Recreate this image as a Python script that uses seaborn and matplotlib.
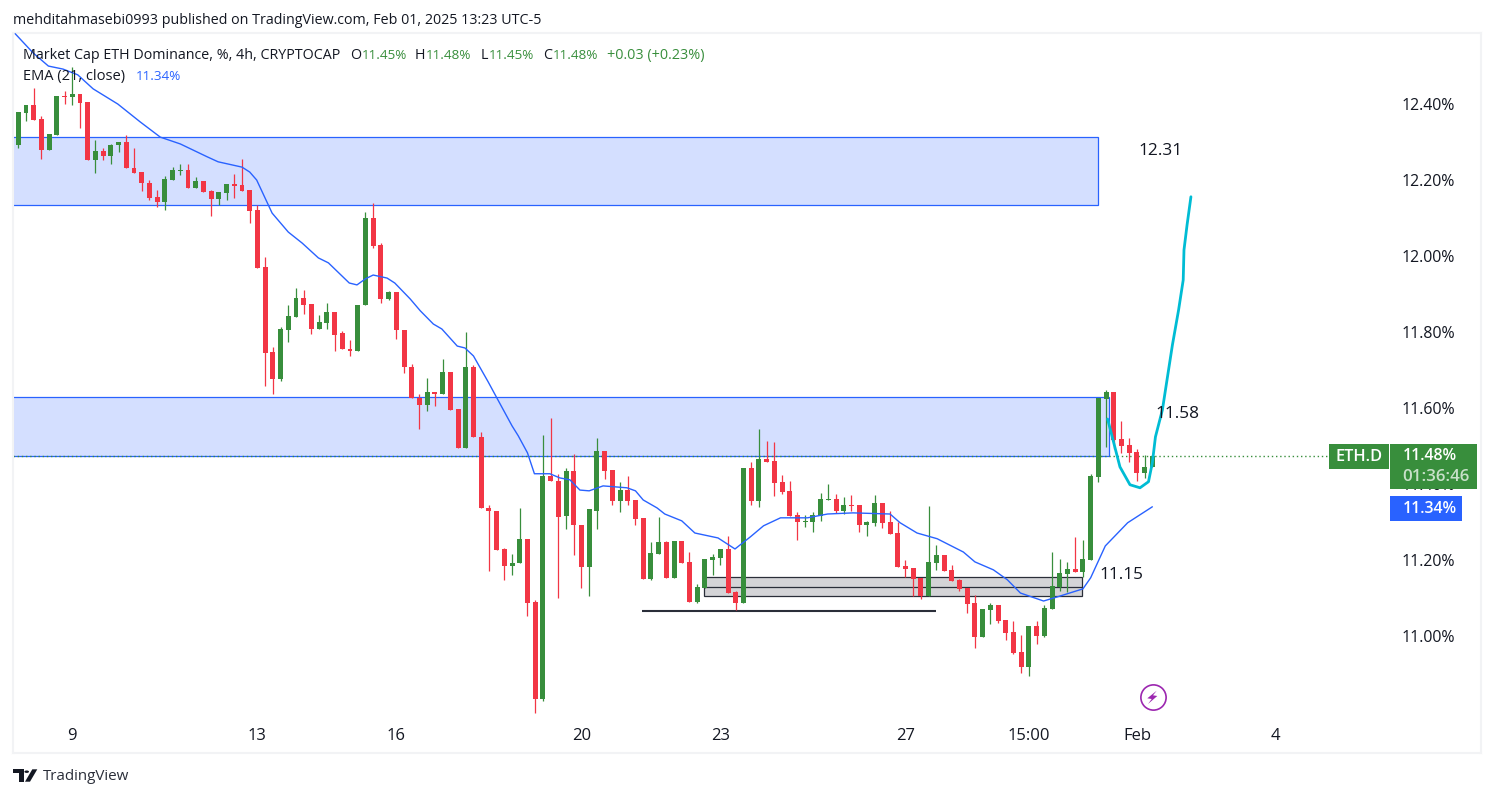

import pandas as pd
import seaborn as sns
import matplotlib.pyplot as plt
from matplotlib.patches import Polygon, Rectangle

# 4h candles, oldest first
opens = [12.292, 12.378, 12.399, 12.362, 12.281, 12.320, 12.422, 12.420, 12.428, 12.407,
         12.255, 12.278, 12.265, 12.292, 12.301, 12.233, 12.222, 12.193, 12.156, 12.144,
         12.202, 12.226, 12.228, 12.181, 12.199, 12.172, 12.151, 12.167, 12.191, 12.188,
         12.175, 12.122, 11.972, 11.749, 11.677, 11.806, 11.841, 11.891, 11.875, 11.809,
         11.825, 11.854, 11.799, 11.756, 11.750, 11.871, 12.101, 12.030, 11.888, 11.906,
         11.806, 11.709, 11.627, 11.608, 11.643, 11.637, 11.695, 11.599, 11.497, 11.709,
         11.525, 11.339, 11.331, 11.230, 11.185, 11.193, 11.256, 11.091, 10.835, 11.423,
         11.408, 11.317, 11.434, 11.294, 11.183, 11.331, 11.489, 11.437, 11.356, 11.384,
         11.358, 11.312, 11.152, 11.217, 11.248, 11.154, 11.251, 11.196, 11.091, 11.127,
         11.201, 11.206, 11.230, 11.117, 11.088, 11.443, 11.356, 11.467, 11.462, 11.406,
         11.383, 11.320, 11.301, 11.301, 11.317, 11.359, 11.362, 11.330, 11.346, 11.346,
         11.293, 11.299, 11.351, 11.301, 11.272, 11.185, 11.180, 11.154, 11.106, 11.193,
         11.214, 11.175, 11.148, 11.127, 11.088, 10.998, 11.070, 11.083, 11.043, 11.012,
         10.959, 10.920, 11.027, 11.001, 11.072, 11.130, 11.164, 11.177, 11.170, 11.201,
         11.420, 11.625, 11.643, 11.520, 11.504, 11.485, 11.430, 11.446]
highs = [12.379, 12.399, 12.443, 12.369, 12.322, 12.422, 12.435, 12.498, 12.428, 12.407,
         12.307, 12.285, 12.296, 12.301, 12.320, 12.285, 12.222, 12.201, 12.175, 12.212,
         12.235, 12.243, 12.243, 12.209, 12.199, 12.175, 12.170, 12.191, 12.217, 12.257,
         12.175, 12.135, 11.999, 11.762, 11.814, 11.872, 11.917, 11.912, 11.875, 11.846,
         11.878, 11.854, 11.804, 11.780, 11.872, 12.117, 12.141, 12.035, 11.909, 11.906,
         11.806, 11.717, 11.638, 11.679, 11.643, 11.730, 11.695, 11.599, 11.801, 11.714,
         11.537, 11.347, 11.331, 11.233, 11.218, 11.339, 11.256, 11.096, 11.531, 11.574,
         11.426, 11.442, 11.480, 11.294, 11.334, 11.521, 11.489, 11.437, 11.405, 11.421,
         11.358, 11.312, 11.248, 11.314, 11.251, 11.251, 11.251, 11.222, 11.138, 11.204,
         11.217, 11.230, 11.264, 11.120, 11.443, 11.459, 11.546, 11.514, 11.512, 11.425,
         11.409, 11.328, 11.320, 11.328, 11.377, 11.401, 11.375, 11.367, 11.372, 11.346,
         11.304, 11.372, 11.351, 11.330, 11.301, 11.201, 11.180, 11.154, 11.343, 11.241,
         11.214, 11.188, 11.151, 11.127, 11.109, 11.072, 11.088, 11.083, 11.043, 11.041,
         11.004, 11.027, 11.041, 11.083, 11.222, 11.204, 11.196, 11.262, 11.254, 11.427,
         11.627, 11.649, 11.643, 11.567, 11.522, 11.493, 11.477, 11.475]
lows = [12.286, 12.357, 12.360, 12.257, 12.281, 12.320, 12.401, 12.399, 12.339, 12.255,
        12.220, 12.255, 12.244, 12.276, 12.234, 12.220, 12.172, 12.149, 12.131, 12.123,
        12.202, 12.213, 12.181, 12.181, 12.170, 12.107, 12.135, 12.149, 12.155, 12.172,
        12.088, 11.970, 11.659, 11.638, 11.672, 11.775, 11.841, 11.849, 11.796, 11.809,
        11.809, 11.751, 11.756, 11.738, 11.750, 11.871, 12.022, 11.878, 11.885, 11.783,
        11.693, 11.627, 11.546, 11.593, 11.606, 11.637, 11.595, 11.497, 11.497, 11.525,
        11.338, 11.172, 11.227, 11.148, 11.162, 11.193, 11.054, 10.798, 10.830, 11.408,
        11.101, 11.283, 11.214, 11.127, 11.106, 11.283, 11.413, 11.345, 11.326, 11.345,
        11.293, 11.152, 11.148, 11.217, 11.154, 11.154, 11.193, 11.091, 11.088, 11.127,
        11.162, 11.188, 11.114, 11.070, 11.088, 11.346, 11.341, 11.459, 11.370, 11.375,
        11.317, 11.254, 11.288, 11.275, 11.304, 11.359, 11.325, 11.322, 11.330, 11.275,
        11.264, 11.291, 11.285, 11.270, 11.183, 11.156, 11.106, 11.098, 11.106, 11.175,
        11.172, 11.146, 11.120, 11.062, 10.970, 10.998, 11.033, 11.035, 10.991, 10.954,
        10.904, 10.896, 10.980, 10.998, 11.072, 11.120, 11.117, 11.170, 11.156, 11.201,
        11.406, 11.499, 11.493, 11.483, 11.459, 11.409, 11.417, 11.446]
closes = [12.379, 12.399, 12.360, 12.281, 12.322, 12.422, 12.420, 12.428, 12.405, 12.255,
          12.278, 12.265, 12.293, 12.301, 12.234, 12.220, 12.192, 12.155, 12.144, 12.204,
          12.228, 12.228, 12.181, 12.199, 12.170, 12.151, 12.170, 12.191, 12.186, 12.172,
          12.120, 11.970, 11.746, 11.677, 11.809, 11.843, 11.891, 11.872, 11.809, 11.827,
          11.854, 11.793, 11.756, 11.750, 11.872, 12.101, 12.028, 11.888, 11.906, 11.805,
          11.708, 11.627, 11.608, 11.643, 11.637, 11.695, 11.596, 11.497, 11.709, 11.525,
          11.338, 11.330, 11.227, 11.185, 11.194, 11.256, 11.088, 10.835, 11.423, 11.408,
          11.314, 11.434, 11.293, 11.183, 11.334, 11.489, 11.435, 11.356, 11.384, 11.356,
          11.310, 11.152, 11.219, 11.248, 11.154, 11.251, 11.193, 11.091, 11.130, 11.204,
          11.209, 11.230, 11.114, 11.088, 11.443, 11.356, 11.467, 11.459, 11.404, 11.380,
          11.317, 11.301, 11.304, 11.320, 11.362, 11.362, 11.330, 11.346, 11.343, 11.293,
          11.301, 11.351, 11.299, 11.270, 11.183, 11.177, 11.151, 11.106, 11.196, 11.214,
          11.172, 11.146, 11.125, 11.085, 10.998, 11.072, 11.083, 11.041, 11.009, 10.956,
          10.920, 11.027, 11.001, 11.075, 11.133, 11.167, 11.177, 11.170, 11.204, 11.422,
          11.627, 11.643, 11.517, 11.501, 11.483, 11.430, 11.446, 11.475]

# EMA(21) read at points along the line, x in candle numbers
ema_x = [-0.4, 1.9, 3.9, 5.8, 7.7, 9.7, 12.9, 15.8, 18.4, 21.0, 24.5, 25.9, 29.0, 30.0, 30.9,
         32.9, 35.0, 36.8, 38.9, 40.2, 42.9, 43.9, 45.0, 46.0, 47.8, 48.8, 50.8, 52.1, 53.8,
         54.9, 56.9, 57.9, 59.0, 60.9, 62.1, 64.0, 64.8, 66.0, 66.9, 68.9, 70.2, 71.5, 72.8,
         74.0, 75.8, 78.9, 80.0, 81.0, 82.8, 83.8, 86.0, 87.7, 90.7, 92.9, 94.9, 96.6, 98.8,
         102.3, 104.9, 108.2, 113.0, 114.3, 116.5, 119.1, 122.5, 124.0, 126.4, 128.2, 129.9,
         132.9, 134.7, 138.0, 139.0, 140.9, 143.8, 147.0]
ema_y = [12.586, 12.536, 12.501, 12.493, 12.478, 12.441, 12.401, 12.354, 12.314, 12.296,
         12.262, 12.249, 12.235, 12.222, 12.201, 12.114, 12.064, 12.035, 11.996, 11.983,
         11.930, 11.925, 11.941, 11.951, 11.943, 11.930, 11.888, 11.857, 11.822, 11.809,
         11.764, 11.759, 11.738, 11.670, 11.625, 11.554, 11.528, 11.483, 11.428, 11.428,
         11.417, 11.412, 11.385, 11.383, 11.396, 11.391, 11.383, 11.359, 11.338, 11.322,
         11.304, 11.272, 11.259, 11.230, 11.262, 11.291, 11.312, 11.312, 11.322, 11.325,
         11.322, 11.299, 11.272, 11.257, 11.222, 11.196, 11.175, 11.149, 11.114, 11.093,
         11.104, 11.125, 11.154, 11.238, 11.299, 11.341]

# hand drawn cyan path
path_x = [141.2, 142.0, 142.8, 144.1, 145.4, 146.5, 147.0, 147.4, 148.3, 148.9, 149.6,
          150.4, 151.0, 151.1, 151.5, 152.0]
path_y = [11.572, 11.509, 11.446, 11.399, 11.391, 11.407, 11.457, 11.525, 11.596, 11.675,
          11.767, 11.859, 11.938, 12.017, 12.083, 12.157]

price_ticks = [11.00, 11.20, 11.40, 11.60, 11.80, 12.00, 12.20, 12.40]
date_ticks = [7, 31, 49, 73, 91, 115, 131, 145, 163]
date_labels = ["9", "13", "16", "20", "23", "27", "15:00", "Feb", "4"]

GREEN = "#388e3c"
RED = "#f23645"
BLUE = "#2962ff"
CYAN = "#00bcd4"
INK = "#131722"
FRAME = "#f2f3f5"
W, H = 1494, 798

sns.set_style("white")
plt.rcParams["font.family"] = ["Open Sans", "DejaVu Sans"]

df = pd.DataFrame({"open": opens, "high": highs, "low": lows, "close": closes})
df["n"] = df.index
df["top"] = df[["open", "close"]].max(axis=1)
df["bottom"] = df[["open", "close"]].min(axis=1)
df["color"] = [GREEN if c >= o else RED for o, c in zip(opens, closes)]

fig = plt.figure(figsize=(W / 100, H / 100), dpi=100)
ax = fig.add_axes([13 / W, 1 - 753 / H, (1481 - 13) / W, (753 - 33) / H])
ax.set_xlim(-0.687, 189.6)
ax.set_ylim(10.693, 12.588)


def label(x, y, s, color=INK, size=10.3, **kw):
    kw.setdefault("va", "center")
    return fig.text(x / W, 1 - y / H, s, color=color, fontsize=size, zorder=10, **kw)


def box(x0, y0, x1, y1, color):
    fig.add_artist(Rectangle((x0 / W, 1 - y1 / H), (x1 - x0) / W, (y1 - y0) / H,
                             transform=fig.transFigure, fc=color, ec="none", zorder=8))


def shape(points, color):
    fig.add_artist(Polygon([(x / W, 1 - y / H) for x, y in points], closed=True,
                           transform=fig.transFigure, fc=color, ec="none", zorder=9))


# supply / demand zones
ax.add_patch(Rectangle((-5, 12.135), 145, 0.179, fc=BLUE, alpha=0.2, ec="none", zorder=1))
ax.add_patch(Rectangle((-5, 12.135), 145, 0.179, fc="none", ec=BLUE, lw=0.9, zorder=1.1))
ax.add_patch(Rectangle((-5, 11.475), 146.4, 0.155, fc=BLUE, alpha=0.2, ec="none", zorder=1))
ax.add_patch(Rectangle((-5, 11.475), 146.4, 0.155, fc="none", ec=BLUE, lw=0.9, zorder=1.1))
ax.add_patch(Rectangle((88.9, 11.107), 49, 0.050, fc="#d4d4d7", ec="#2a2e39", lw=0.9, zorder=1))
ax.plot([88.9, 137.9], [11.131, 11.131], color="#2a2e39", lw=0.9, zorder=1.1)
ax.plot([80.8, 119], [11.066, 11.066], color="#2a2e39", lw=1.5, zorder=1.1, solid_capstyle="butt")

# last price line
ax.plot([-0.687, 170.0], [11.475, 11.475], color=GREEN, lw=1.0, ls=(0, (1, 2)), zorder=1.5)

# candles
ax.vlines(df["n"], df["low"], df["high"], colors=df["color"], lw=0.9, zorder=2)
ax.bar(df["n"], df["top"] - df["bottom"], bottom=df["bottom"], width=0.64,
       color=df["color"], linewidth=0, zorder=2.2)

sns.lineplot(x=ema_x, y=ema_y, ax=ax, color=BLUE, lw=1.0, sort=False, estimator=None, zorder=3)
sns.lineplot(x=path_x, y=path_y, ax=ax, color=CYAN, lw=2.0, sort=False, estimator=None, zorder=4)

ax.set_yticks(price_ticks, [f"{p:.2f}%" for p in price_ticks])
ax.set_xticks(date_ticks, date_labels)
ax.yaxis.tick_right()
ax.tick_params(axis="y", length=0, pad=-57, labelsize=11.4, labelcolor=INK)
ax.tick_params(axis="x", length=0, pad=-18, labelsize=12, labelcolor=INK)
for side in ax.spines.values():
    side.set_color(FRAME)
    side.set_linewidth(1.5)
ax.set_xlabel("")
ax.set_ylabel("")

# levels written on the chart
ax.text(148.0, 12.277, "12.31", color=INK, fontsize=12.4, ha="center", va="center", zorder=6)
ax.text(150.2, 11.585, "11.58", color=INK, fontsize=12.4, ha="center", va="center", zorder=6)
ax.text(143.0, 11.162, "11.15", color=INK, fontsize=12.4, ha="center", va="center", zorder=6)

# alert icon
ax.scatter([147.05], [10.84], s=330, fc="white", ec="#9c27b0", lw=1.2, zorder=6)
shape([(1156.7, 690.7), (1147.3, 698.3), (1151.7, 699), (1148, 704), (1157.3, 696), (1153, 695.3)],
      "#9c27b0")

# price scale tags
box(1329, 444, 1389, 469, GREEN)
box(1390, 444, 1477, 489, GREEN)
box(1390, 496, 1462, 521, BLUE)
label(1359, 457, "ETH.D", color="white", size=11.8, ha="center", weight="semibold")
label(1403, 456, "11.48%", color="white", size=11.4, weight="semibold")
label(1402, 477, "01:36:46", color="#c8e0c9", size=12.2, weight="semibold")
label(1403, 509, "11.34%", color="white", size=11.4, weight="semibold")

# header and legend
label(13, 21, "mehditahmasebi0993 published on TradingView.com, Feb 01, 2025 13:23 UTC-5")
label(23, 55.5, "Market Cap ETH Dominance, %, 4h, CRYPTOCAP")
label(350, 55.5, "O")
label(362, 55.5, "11.45%", color=GREEN, size=9.7)
label(415, 55.5, "H")
label(426, 55.5, "11.48%", color=GREEN, size=9.7)
label(481, 55.5, "L")
label(489, 55.5, "11.45%", color=GREEN, size=9.7)
label(543, 55.5, "C")
label(553, 55.5, "11.48%", color=GREEN, size=9.7)
label(607, 55.5, "+0.03 (+0.23%)", color=GREEN, size=10.4)
label(23, 76.5, "EMA (21, close)", size=10.5)
label(136, 76.5, "11.34%", color=BLUE, size=9.7)

# footer
shape([(13.3, 769.3), (24, 769.3), (24, 781.7), (18.7, 781.7), (18.7, 773.3), (13.3, 773.3)], INK)
shape([(37.3, 769.3), (32.3, 769.3), (25, 781.7), (30, 781.7)], INK)
fig.add_artist(plt.Circle((26.7 / W, 1 - 771.7 / H), 2.3 / W, transform=fig.transFigure,
                          fc=INK, ec="none", zorder=9))
label(42.5, 776.5, "TradingView", color="#2a2e39", size=10.9)

fig.savefig("out.png", dpi=100)
